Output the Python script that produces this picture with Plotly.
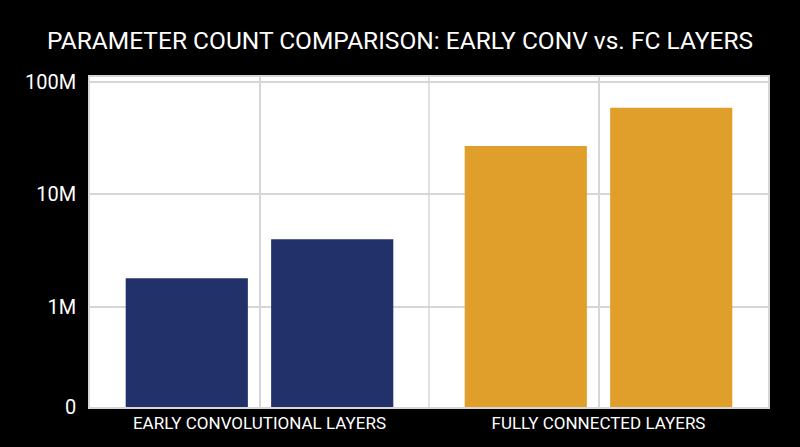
import plotly.graph_objects as go

BG = "#000000"
GRID = "#d6d6d6"
NAVY = "#22316a"
ORANGE = "#e09f2b"
FONT = "Roboto"

categories = ["EARLY CONVOLUTIONAL LAYERS", "FULLY CONNECTED LAYERS"]
first_bar = [1.8e6, 27e6]
second_bar = [4.0e6, 59e6]
bar_colors = [NAVY, ORANGE]

y_tickvals = [10 ** 5.112, 1e6, 1e7, 1e8]
y_ticktext = ["0", "1M", "10M", "100M"]

fig = go.Figure()
for vals in (first_bar, second_bar):
    fig.add_trace(go.Bar(
        x=categories, y=vals, marker=dict(color=bar_colors, line=dict(width=0)),
        showlegend=False, hoverinfo="x+y",
    ))

# extra gridline between the two groups
fig.add_shape(
    type="line", xref="x domain", yref="y domain",
    x0=0.5, x1=0.5, y0=0, y1=1, layer="below",
    line=dict(color=GRID, width=1.5),
)

fig.update_layout(
    width=800, height=447,
    paper_bgcolor=BG, plot_bgcolor="#ffffff",
    margin=dict(l=90, r=32, t=77, b=40),
    barmode="group", bargap=0.142, bargroupgap=0.16,
    title=dict(
        text="PARAMETER COUNT COMPARISON: EARLY CONV vs. FC LAYERS",
        x=0.5, xanchor="center", y=0.909, yanchor="middle",
        font=dict(family=FONT, size=24.5, color="#ffffff"),
    ),
    font=dict(family=FONT, color="#ffffff"),
)
fig.update_xaxes(
    showgrid=True, gridcolor=GRID, gridwidth=1.5,
    showline=True, linecolor=GRID, linewidth=1.5, mirror=True,
    ticks="", tickfont=dict(size=17, color="#ffffff"),
)
fig.update_yaxes(
    type="log", range=[5.111, 8.044],
    tickvals=y_tickvals, ticktext=y_ticktext,
    showgrid=True, gridcolor=GRID, gridwidth=1.5,
    showline=True, linecolor=GRID, linewidth=1.5, mirror=True,
    ticks="", ticklabelstandoff=8, tickfont=dict(size=20, color="#ffffff"),
    zeroline=False,
)

# drop the page's default body margin so the figure sits at the window origin
fig.write_html(
    "out.html",
    config={"displayModeBar": False},
    post_script="document.body.style.margin='0';document.body.style.background='#000';",
)
